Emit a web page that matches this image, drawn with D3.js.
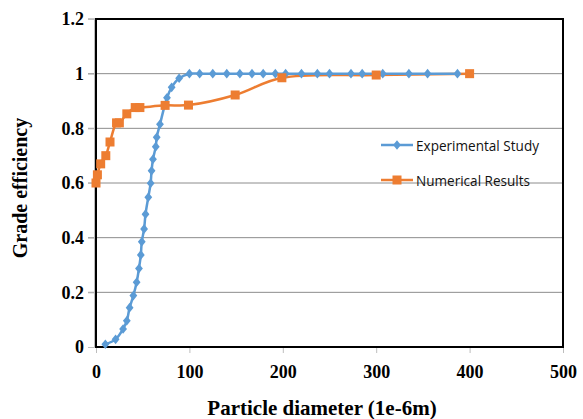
<!DOCTYPE html>
<html>
<head>
<meta charset="utf-8">
<script src="https://cdn.jsdelivr.net/npm/d3@7"></script>
<style>
  body { margin: 0; background: #fff; }
</style>
</head>
<body>
<svg id="chart"></svg>
<script>
var width = 583,
	height = 419;

// Experimental Study (blue diamonds)
var expX = [10, 21, 29, 33, 36, 40, 43.5, 46, 48, 49, 51.5, 53, 56, 58.5, 59.5, 61, 64, 65, 68.5, 76, 81, 89,
	100, 111, 125, 140, 154, 167, 179, 192, 203, 220, 237, 250, 273, 285, 307, 335, 355, 387];
var expY = [0.01, 0.028, 0.066, 0.096, 0.144, 0.188, 0.237, 0.287, 0.337, 0.385, 0.432, 0.486, 0.548, 0.599, 0.645, 0.687, 0.733, 0.767, 0.815, 0.912, 0.95, 0.983,
	1, 1, 1, 1, 1, 1, 1, 1, 1, 1, 1, 1, 1, 1, 1, 1, 1, 1];

// Numerical Results (orange squares)
var numX = [0, 1.5, 5, 10.5, 15, 22, 25, 33, 42, 47, 74, 99, 149, 199, 300, 400];
var numY = [0.60, 0.63, 0.67, 0.70, 0.75, 0.82, 0.82, 0.853, 0.876, 0.876, 0.884, 0.885, 0.922, 0.985, 0.995, 1.0];

var xTicks = [0, 100, 200, 300, 400, 500];
var yTicks = [0, 0.2, 0.4, 0.6, 0.8, 1, 1.2];
var seriesNames = ['Experimental Study', 'Numerical Results'];

var blue = '#5b9bd5',
	orange = '#ed7d31';

var x = d3.scaleLinear()
	.domain([0, 500])
	.range([96, 563]);

var y = d3.scaleLinear()
	.domain([0, 1.2])
	.range([347, 19]);

var svg = d3.select('#chart')
	.attr('width', width)
	.attr('height', height);

// gridlines
svg.append('g')
	.selectAll('line')
	.data(yTicks.filter(d => d > 0))
	.join('line')
		.attr('x1', 88)
		.attr('x2', x(500))
		.attr('y1', d => y(d))
		.attr('y2', d => y(d))
		.attr('stroke', '#8c8c8c')
		.attr('stroke-width', 1);

// y axis (light grey line with ticks on the left)
var yAxis = g => g
	.attr('transform', 'translate(94,0)')
	.call(d3.axisLeft(y).tickValues(yTicks).tickFormat(d3.format('')).tickSize(6).tickPadding(4))
	.call(g => g.selectAll('.domain, .tick line').attr('stroke', '#bdbdbd'))
	.call(g => g.selectAll('.tick text')
		.attr('font-family', '"Liberation Serif", "Times New Roman", serif')
		.attr('font-weight', 'bold')
		.attr('font-size', 18)
		.attr('fill', '#000'));

var xAxis = g => g
	.attr('transform', 'translate(0,348)')
	.call(d3.axisBottom(x).tickValues(xTicks).tickSize(5).tickPadding(12))
	.call(g => g.select('.domain').remove())
	.call(g => g.selectAll('.tick line').attr('stroke', '#bdbdbd'))
	.call(g => g.selectAll('.tick text')
		.attr('font-family', '"Liberation Serif", "Times New Roman", serif')
		.attr('font-weight', 'bold')
		.attr('font-size', 18)
		.attr('fill', '#000'));

svg.append('g').call(yAxis);
svg.append('g').call(xAxis);

// plot frame
svg.append('rect')
	.attr('x', x(0))
	.attr('y', y(1.2))
	.attr('width', x(500) - x(0))
	.attr('height', y(0) - y(1.2))
	.attr('fill', 'none')
	.attr('stroke', '#000')
	.attr('stroke-width', 2);

// axis titles
svg.append('text')
	.attr('x', 322)
	.attr('y', 415)
	.attr('text-anchor', 'middle')
	.attr('font-family', '"Liberation Serif", "Times New Roman", serif')
	.attr('font-weight', 'bold')
	.attr('font-size', 21)
	.text('Particle diameter (1e-6m)');

svg.append('text')
	.attr('transform', 'translate(27,' + 188 + ') rotate(-90)')
	.attr('text-anchor', 'middle')
	.attr('font-family', '"Liberation Serif", "Times New Roman", serif')
	.attr('font-weight', 'bold')
	.attr('font-size', 20)
	.text('Grade efficiency');

var curve = d3.line()
	.x(d => x(d[0]))
	.y(d => y(d[1]))
	.curve(d3.curveCatmullRom.alpha(0.5));

var expData = expX.map((v, i) => [v, expY[i]]);
var numData = numX.map((v, i) => [v, numY[i]]);

var diamond = 'M0,-4.8L3.9,0L0,4.8L-3.9,0Z';

svg.append('path')
	.attr('d', curve(numData))
	.attr('fill', 'none')
	.attr('stroke', orange)
	.attr('stroke-width', 2.5);

svg.append('path')
	.attr('d', curve(expData))
	.attr('fill', 'none')
	.attr('stroke', blue)
	.attr('stroke-width', 2.5);

svg.append('g')
	.selectAll('path')
	.data(expData)
	.join('path')
		.attr('d', diamond)
		.attr('transform', d => 'translate(' + x(d[0]) + ',' + y(d[1]) + ')')
		.attr('fill', blue);

svg.append('g')
	.selectAll('rect')
	.data(numData)
	.join('rect')
		.attr('x', d => x(d[0]) - 4.5)
		.attr('y', d => y(d[1]) - 4.5)
		.attr('width', 9)
		.attr('height', 9)
		.attr('fill', orange);

// legend
var legend = svg.append('g')
	.selectAll('g')
	.data(seriesNames)
	.join('g')
		.attr('transform', (d, i) => 'translate(381,' + (145 + i * 35) + ')');

legend.append('line')
	.attr('x1', 0)
	.attr('x2', 32)
	.attr('stroke', (d, i) => i == 0 ? blue : orange)
	.attr('stroke-width', 2.5);

legend.filter((d, i) => i == 0).append('path')
	.attr('d', diamond)
	.attr('transform', 'translate(16,0)')
	.attr('fill', blue);

legend.filter((d, i) => i == 1).append('rect')
	.attr('x', 11.5)
	.attr('y', -4.5)
	.attr('width', 9)
	.attr('height', 9)
	.attr('fill', orange);

legend.append('text')
	.attr('x', 35)
	.attr('y', 5.5)
	.attr('font-family', '"Liberation Sans Narrow", "Arial Narrow", "Open Sans", sans-serif')
	.attr('font-size', 15)
	.attr('fill', '#111')
	.attr('textLength', (d, i) => i == 0 ? 123 : 114)
	.attr('lengthAdjust', 'spacingAndGlyphs')
	.text(d => d);
</script>
</body>
</html>
